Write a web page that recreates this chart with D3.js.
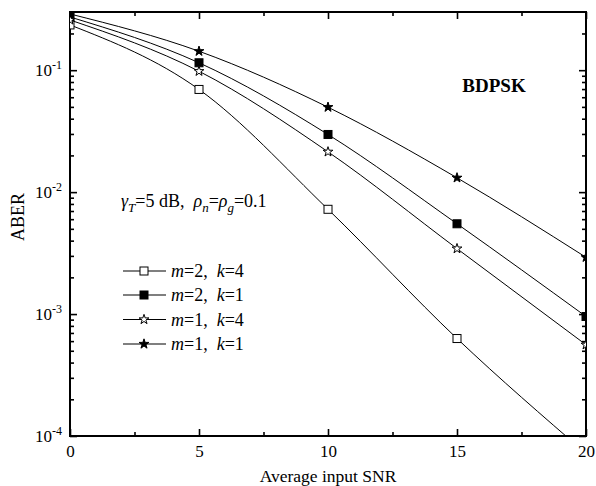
<!DOCTYPE html>
<html>
<head>
<meta charset="utf-8">
<script src="https://cdn.jsdelivr.net/npm/d3@7"></script>
<style>
  body { margin: 0; background: #fff; }
  text { font-family: "Liberation Serif", "Times New Roman", serif; fill: #000; }
</style>
</head>
<body>
<svg></svg>
<script>
const width = 596;
const height = 486;
const plotLeft = 70, plotRight = 586, plotTop = 12, plotBottom = 436;

// data
const snr = [0, 5, 10, 15, 20];
const aberM2K4 = [0.235, 0.0695, 0.00723, 0.00063, 0.000072];
const aberM2K1 = [0.273, 0.115, 0.0297, 0.0055, 0.000955];
const aberM1K4 = [0.258, 0.098, 0.0214, 0.00344, 0.00056];
const aberM1K1 = [0.289, 0.143, 0.0497, 0.0131, 0.00292];
const legendM = [2, 2, 1, 1];
const legendK = [4, 1, 4, 1];
const markerTypes = ["openSquare", "filledSquare", "openStar", "filledStar"];
const xMajorTicks = [0, 5, 10, 15, 20];
const xMinorTicks = [2.5, 7.5, 12.5, 17.5];
const yDecades = [1e-4, 1e-3, 1e-2, 1e-1];
const yExponents = [-4, -3, -2, -1];

const series = [aberM2K4, aberM2K1, aberM1K4, aberM1K1].map((vals, i) => ({
  values: vals.map((v, j) => ({x: snr[j], y: v})),
  marker: markerTypes[i],
  m: legendM[i],
  k: legendK[i]
}));

const xScale = d3.scaleLinear().domain([0, 20]).range([plotLeft, plotRight]);
const yScale = d3.scaleLog().domain([1e-4, 0.3]).range([plotBottom, plotTop]);
const yMinorTicks = yDecades.flatMap(d => d3.range(2, 10).map(k => k * d)).filter(v => v < 0.3);

const svg = d3.select("svg")
  .attr("width", width)
  .attr("height", height);

svg.append("rect").attr("width", width).attr("height", height).attr("fill", "#fff");

svg.append("clipPath").attr("id", "plot-clip")
  .append("rect")
  .attr("x", plotLeft).attr("y", plotTop)
  .attr("width", plotRight - plotLeft).attr("height", plotBottom - plotTop);

function styleAxis(g) {
  g.select(".domain").remove();
  g.selectAll(".tick line").attr("stroke", "#000").attr("stroke-width", 1.6);
  g.selectAll(".tick text").style("font-family", "'Liberation Serif', serif");
}

// bottom axis
svg.append("g")
  .attr("transform", `translate(0, ${plotBottom})`)
  .call(d3.axisBottom(xScale).tickValues(xMajorTicks).tickSize(-7).tickSizeOuter(0).tickPadding(9).tickFormat(d3.format("d")))
  .call(styleAxis)
  .call(g => g.selectAll(".tick text").attr("font-size", 17));

svg.append("g")
  .attr("transform", `translate(0, ${plotBottom})`)
  .call(d3.axisBottom(xScale).tickValues(xMinorTicks).tickSize(-4).tickSizeOuter(0).tickFormat(""))
  .call(styleAxis);

// top axis
svg.append("g")
  .attr("transform", `translate(0, ${plotTop})`)
  .call(d3.axisTop(xScale).tickValues(xMajorTicks).tickSize(-7).tickSizeOuter(0).tickFormat(""))
  .call(styleAxis);

svg.append("g")
  .attr("transform", `translate(0, ${plotTop})`)
  .call(d3.axisTop(xScale).tickValues(xMinorTicks).tickSize(-4).tickSizeOuter(0).tickFormat(""))
  .call(styleAxis);

// left axis
svg.append("g")
  .attr("transform", `translate(${plotLeft}, 0)`)
  .call(d3.axisLeft(yScale).tickValues(yDecades).tickSize(-7).tickSizeOuter(0).tickPadding(8).tickFormat(""))
  .call(styleAxis)
  .call(g => g.selectAll(".tick text").each(function(d, i) {
    const t = d3.select(this).attr("font-size", 17);
    t.append("tspan").text("10");
    t.append("tspan").attr("font-size", 12).attr("dy", -7).text(yExponents[i]);
  }));

svg.append("g")
  .attr("transform", `translate(${plotLeft}, 0)`)
  .call(d3.axisLeft(yScale).tickValues(yMinorTicks).tickSize(-4).tickSizeOuter(0).tickFormat(""))
  .call(styleAxis);

// right axis
svg.append("g")
  .attr("transform", `translate(${plotRight}, 0)`)
  .call(d3.axisRight(yScale).tickValues(yDecades).tickSize(-7).tickSizeOuter(0).tickFormat(""))
  .call(styleAxis);

svg.append("g")
  .attr("transform", `translate(${plotRight}, 0)`)
  .call(d3.axisRight(yScale).tickValues(yMinorTicks).tickSize(-4).tickSizeOuter(0).tickFormat(""))
  .call(styleAxis);

// frame
svg.append("rect")
  .attr("x", plotLeft).attr("y", plotTop)
  .attr("width", plotRight - plotLeft).attr("height", plotBottom - plotTop)
  .attr("fill", "none")
  .attr("stroke", "#000")
  .attr("stroke-width", 2);

// axis titles
svg.append("text")
  .attr("x", (plotLeft + plotRight) / 2)
  .attr("y", 482)
  .attr("text-anchor", "middle")
  .attr("font-size", 17.5)
  .text("Average input SNR");

svg.append("text")
  .attr("transform", "rotate(-90)")
  .attr("x", -(plotTop + plotBottom) / 2 + 7)
  .attr("y", 24)
  .attr("text-anchor", "middle")
  .attr("font-size", 18)
  .text("ABER");

// curves
const line = d3.line()
  .x(d => xScale(d.x))
  .y(d => yScale(d.y))
  .curve(d3.curveMonotoneX);

const plot = svg.append("g").attr("clip-path", "url(#plot-clip)");

plot.selectAll(".series")
  .data(series)
  .join("path")
    .attr("class", "series")
    .attr("d", d => line(d.values))
    .attr("fill", "none")
    .attr("stroke", "#000")
    .attr("stroke-width", 1);

function drawMarker(g, type, cx, cy) {
  if (type.endsWith("Square")) {
    g.append("rect")
      .attr("x", cx - 4).attr("y", cy - 4)
      .attr("width", 8).attr("height", 8)
      .attr("fill", type === "filledSquare" ? "#000" : "#fff")
      .attr("stroke", "#000")
      .attr("stroke-width", 1);
  } else {
    g.append("path")
      .attr("transform", `translate(${cx},${cy})`)
      .attr("d", d3.symbol(d3.symbolStar, 30)())
      .attr("fill", type === "filledStar" ? "#000" : "#fff")
      .attr("stroke", "#000")
      .attr("stroke-width", 1);
  }
}

series.forEach(s => {
  const g = plot.append("g");
  s.values.forEach(p => drawMarker(g, s.marker, xScale(p.x), yScale(p.y)));
});

// annotation
svg.append("text")
  .attr("x", 494)
  .attr("y", 92)
  .attr("text-anchor", "middle")
  .attr("font-size", 19)
  .attr("font-weight", "bold")
  .text("BDPSK");

const note = svg.append("text")
  .attr("x", 121)
  .attr("y", 207)
  .attr("font-size", 18)
  .attr("xml:space", "preserve");
note.append("tspan").attr("font-style", "italic").text("γ");
note.append("tspan").attr("font-style", "italic").attr("font-size", 13).attr("dy", 5).text("T");
note.append("tspan").attr("dy", -5).text("=5 dB,  ");
note.append("tspan").attr("font-style", "italic").text("ρ");
note.append("tspan").attr("font-style", "italic").attr("font-size", 13).attr("dy", 5).text("n");
note.append("tspan").attr("dy", -5).text("=");
note.append("tspan").attr("font-style", "italic").text("ρ");
note.append("tspan").attr("font-style", "italic").attr("font-size", 13).attr("dy", 5).text("g");
note.append("tspan").attr("dy", -5).text("=0.1");

// legend
const legendY = [271, 295, 319.5, 344];
series.forEach((s, i) => {
  const g = svg.append("g");
  g.append("line")
    .attr("x1", 123).attr("x2", 166)
    .attr("y1", legendY[i]).attr("y2", legendY[i])
    .attr("stroke", "#000").attr("stroke-width", 1.2);
  drawMarker(g, s.marker, 144, legendY[i]);
  const t = g.append("text")
    .attr("x", 171)
    .attr("y", legendY[i] + 6)
    .attr("font-size", 18)
    .attr("xml:space", "preserve");
  t.append("tspan").attr("font-style", "italic").text("m");
  t.append("tspan").text(`=${s.m},  `);
  t.append("tspan").attr("font-style", "italic").text("k");
  t.append("tspan").text(`=${s.k}`);
});
</script>
</body>
</html>
